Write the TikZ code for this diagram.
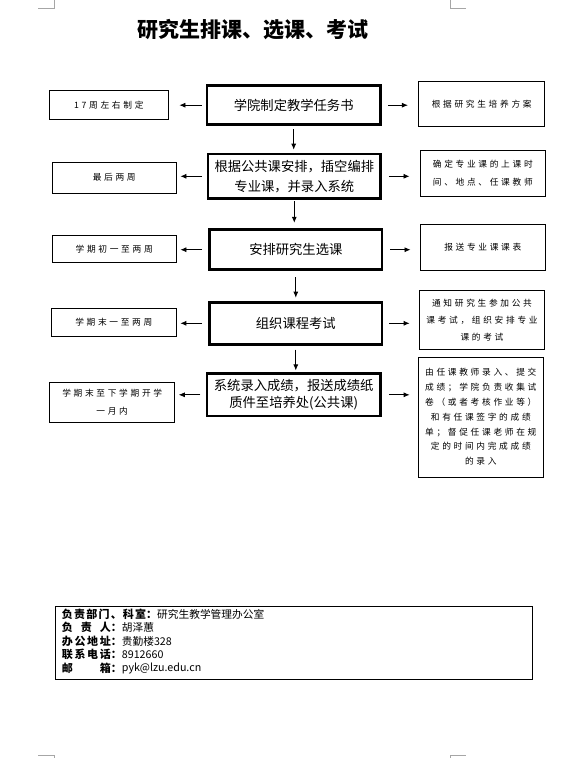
\documentclass[tikz,border=0pt]{standalone}
\usepackage{fontspec}
\setmainfont{Noto Sans CJK SC}
\newfontfamily\sidefont[LetterSpace=31]{Noto Sans CJK SC}
\usetikzlibrary{arrows.meta}
\begin{document}
\begin{tikzpicture}[x=1pt,y=-1pt,
  cbox/.style={draw, line width=2.6pt, inner sep=0pt, align=center},
  sbox/.style={draw, line width=0.8pt, inner sep=0pt, align=center},
  cfont/.style={font={\fontsize{13.3}{#1}\selectfont}},
  sfont/.style={font={\fontsize{8.7}{#1}\sidefont}},
  arr/.style={-{Latex[length=6pt,width=5pt]}, line width=0.8pt},
  corner/.style={draw=black!35, line width=0.8pt},
  lab/.style={anchor=west, inner sep=0pt, font={\fontsize{11}{13}\selectfont\bfseries}},
  val/.style={anchor=west, inner sep=0pt, font={\fontsize{10.7}{13}\selectfont}}]
\useasboundingbox (0,0) rectangle (588,758);
% corner marks
\draw[corner] (38.3,8.3) -- (54.3,8.3) -- (54.3,0);
\draw[corner] (450,0) -- (450,8.3) -- (466,8.3);
\draw[corner] (38.3,755) -- (54.3,755) -- (54.3,758);
\draw[corner] (450,758) -- (450,755) -- (466,755);
% title
\node (title) at (252.5,29.3) {\fontsize{21}{25}\selectfont\bfseries 研究生排课、选课、考试};
% centre boxes
\node[cbox, cfont=16, minimum width=173.4pt, minimum height=39pt] (c1) at (293.7,105.2) {学院制定教学任务书};
\node[cbox, cfont=20, minimum width=172.4pt, minimum height=44.7pt] (c2) at (294.3,176.3) {根据公共课安排，插空编排\\专业课，并录入系统};
\node[cbox, cfont=16, minimum width=172.4pt, minimum height=40pt] (c3) at (295.8,249.7) {安排研究生选课};
\node[cbox, cfont=16, minimum width=172.4pt, minimum height=42pt] (c4) at (295.8,323.3) {组织课程考试};
\node[cbox, cfont=16.5, minimum width=173.4pt, minimum height=42.4pt] (c5) at (293.7,394.8) {系统录入成绩，报送成绩纸\\质件至培养处(公共课)};
% left boxes
\node[sbox, sfont=12, minimum width=118.2pt, minimum height=28.5pt] (l1) at (108.8,104.7) {17周左右制定};
\node[sbox, sfont=12, minimum width=124.2pt, minimum height=30.8pt] (l2) at (114.2,177.5) {最后两周};
\node[sbox, sfont=12, minimum width=124.2pt, minimum height=26.5pt] (l3) at (114.2,248.7) {学期初一至两周};
\node[sbox, sfont=12, minimum width=124.9pt, minimum height=27.6pt] (l4) at (113.8,322.5) {学期末一至两周};
\node[sbox, sfont=17.7, minimum width=124.9pt, minimum height=39.8pt] (l5) at (112.2,402) {学期末至下学期开学\\一月内};
% right boxes
\node[sbox, sfont=12, minimum width=125.9pt, minimum height=45.2pt] (r1) at (481.7,103.7) {根据研究生培养方案};
\node[sbox, sfont=18, minimum width=124.9pt, minimum height=45.9pt] (r2) at (482.8,173.3) {确定专业课的上课时\\间、地点、任课教师};
\node[sbox, sfont=12, minimum width=124.9pt, minimum height=45.6pt] (r3) at (482.8,247.5) {报送专业课课表};
\node[sbox, sfont=17, minimum width=125.2pt, minimum height=59.2pt] (r4) at (482,320) {通知研究生参加公共\\课考试，组织安排专业\\课的考试};
\node[sbox, sfont=14.8, minimum width=124.2pt, minimum height=119.8pt] (r5) at (480.8,417) {由任课教师录入、提交\\成绩；学院负责收集试\\卷（或者考核作业等）\\和有任课签字的成绩\\单；督促任课老师在规\\定的时间内完成成绩\\的录入};
% vertical arrows
\draw[arr, shorten <=3.3pt, shorten >=3pt] (c1.south) -- (c1.south |- c2.north);
\draw[arr, shorten <=1.3pt, shorten >=5.6pt] (c2.south) -- (c2.south |- c3.north);
\draw[arr, shorten <=6.3pt, shorten >=3.3pt] (c3.south) -- (c3.south |- c4.north);
\draw[arr, shorten <=3.9pt, shorten >=1.9pt] (c4.south) -- (c4.south |- c5.north);
% left arrows
\draw[arr, shorten <=4pt, shorten >=11.1pt] (c1.west) -- (c1.west -| l1.east);
\draw[arr, shorten <=4.7pt, shorten >=3.7pt] (c2.west) -- (c2.west -| l2.east);
\draw[arr, shorten <=6.3pt, shorten >=3.7pt] (c3.west) -- (c3.west -| l3.east);
\draw[arr, shorten <=6.3pt, shorten >=3.7pt] (c4.west) -- (c4.west -| l4.east);
\draw[arr, shorten <=5.3pt, shorten >=3.7pt] (c5.west) -- (c5.west -| l5.east);
% right arrows
\draw[arr, shorten <=6.3pt, shorten >=10.4pt] (c1.east) -- (c1.east -| r1.west);
\draw[arr, shorten <=7pt, shorten >=10.4pt] (c2.east) -- (c2.east -| r2.west);
\draw[arr, shorten <=7pt, shorten >=9.4pt] (c3.east) -- (c3.east -| r3.west);
\draw[arr, shorten <=5.7pt, shorten >=9.4pt] (c4.east) -- (c4.east -| r4.west);
\draw[arr, shorten <=7.3pt, shorten >=8.7pt] (c5.east) -- (c5.east -| r5.west);
% footer
\node[draw, line width=0.8pt, minimum width=476.5pt, minimum height=73.2pt] (foot) at (293.7,643) {};
\node[lab] (k1) at (61.7,614) {\makebox[95.3pt][s]{负\hfill 责\hfill 部\hfill 门\hfill 、\hfill 科\hfill 室：}};
\node[val] (v1) at (157,614) {研究生教学管理办公室};
\node[lab] (k2) at (61.7,627.5) {\makebox[60pt][s]{负\hfill 责\hfill 人：}};
\node[val] (v2) at (121.7,627.5) {胡泽蕙};
\node[lab] (k3) at (61.7,641) {\makebox[60pt][s]{办\hfill 公\hfill 地\hfill 址：}};
\node[val] (v3) at (121.7,641) {贵勤楼328};
\node[lab] (k4) at (61.7,654.5) {\makebox[60pt][s]{联\hfill 系\hfill 电\hfill 话：}};
\node[val] (v4) at (121.7,654.5) {8912660};
\node[lab] (k5) at (61.7,668) {\makebox[60pt][s]{邮\hfill 箱：}};
\node[val] (v5) at (121.7,668) {pyk@lzu.edu.cn};
\end{tikzpicture}
\end{document}
